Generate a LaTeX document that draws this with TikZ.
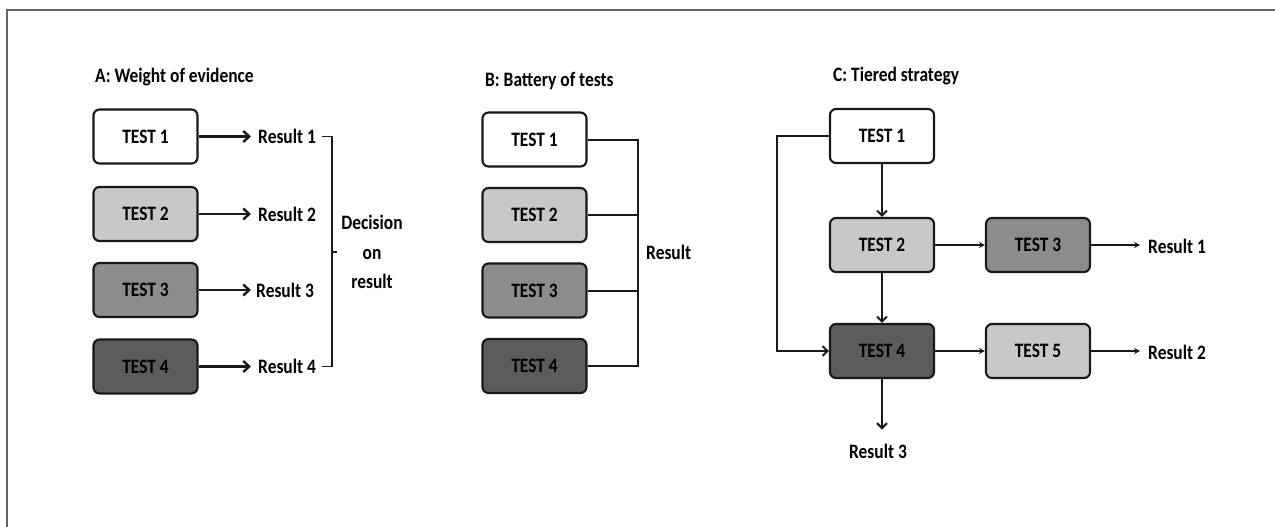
\documentclass[tikz,border=0pt]{standalone}
\usepackage{fontspec}
\setmainfont{Carlito}[FakeStretch=0.85]
\usetikzlibrary{arrows.meta}
\definecolor{gtwo}{RGB}{200,200,200}
\definecolor{gthree}{RGB}{140,140,140}
\definecolor{gfour}{RGB}{92,92,92}
\definecolor{edge}{RGB}{25,25,25}
\begin{document}
\begin{tikzpicture}[x=1pt,y=-1pt,
  txt/.style={font=\fontsize{20.5}{24}\selectfont\bfseries},
  box/.style={txt, draw=edge, line width=2.1pt, rounded corners=6pt, minimum width=104pt, minimum height=54pt, inner sep=0pt},
  lbl/.style={txt, inner sep=0pt},
  conn/.style={line width=2pt, draw=edge},
  arrA/.style={line width=2.4pt, draw=edge, -{Straight Barb[length=6pt,width=11pt,line width=2.4pt]}},
  arrC/.style={conn, -{Straight Barb[length=5pt,width=10pt,line width=2pt]}},
  arrS/.style={conn, -{Stealth[length=6pt,width=6pt]}},
]
\useasboundingbox (0,0) rectangle (1275,527);
\draw[line width=2pt, black!60] (7,527) -- (7,10.5) -- (1275,10.5);

% ---------- Panel A ----------
\node[lbl, anchor=west] (tA) at (95,77) {A: Weight of evidence};
\node[box, fill=white]  (a1) at (145.5,136.5) {TEST 1};
\node[box, fill=gtwo]   (a2) at (145.5,214) {TEST 2};
\node[box, fill=gthree] (a3) at (145.5,290) {TEST 3};
\node[box, fill=gfour]  (a4) at (145.5,366.5) {TEST 4};
\node[lbl, anchor=west] (ra1) at (258,136.5) {Result 1};
\node[lbl, anchor=west] (ra2) at (258,214) {Result 2};
\node[lbl, anchor=west] (ra3) at (256,290) {Result 3};
\node[lbl, anchor=west] (ra4) at (258,366.5) {Result 4};
\draw[arrA, shorten >=7pt] (a1.east) -- (ra1.west);
\draw[arrA, shorten >=7pt] (a2.east) -- (ra2.west);
\draw[arrA, shorten >=5pt] (a3.east) -- (ra3.west);
\draw[arrA, shorten >=7pt] (a4.east) -- (ra4.west);
\coordinate (bt) at (332,136.5);
\coordinate (bb) at (332,366.5);
\coordinate (bm) at (332,252);
\node[lbl, align=center, font=\fontsize{20.5}{29.5}\selectfont\bfseries] (dec) at (372,252) {Decision\\on\\result};
\draw[conn, line width=1.8pt] ([xshift=6pt]ra1.east) -- (bt) -- (bb) -- ([xshift=6pt]ra4.east);
\draw[conn, line width=1.8pt] (bm) -- ++(5,0);

% ---------- Panel B ----------
\node[lbl, anchor=west] (tB) at (485,81) {B: Battery of tests};
\node[box, fill=white]  (b1) at (534.5,139.5) {TEST 1};
\node[box, fill=gtwo]   (b2) at (534.5,215) {TEST 2};
\node[box, fill=gthree] (b3) at (534.5,290.5) {TEST 3};
\node[box, fill=gfour]  (b4) at (534.5,366) {TEST 4};
\coordinate (bx) at (638,0);
\draw[conn] (b1.east) -- (b1.east -| bx) -- (b4.east -| bx) -- (b4.east);
\draw[conn] (b2.east) -- (b2.east -| bx);
\draw[conn] (b3.east) -- (b3.east -| bx);
\node[lbl, anchor=west] (rb) at (646,252) {Result};

% ---------- Panel C ----------
\node[lbl, anchor=west] (tC) at (833,76) {C: Tiered strategy};
\node[box, fill=white]  (c1) at (882,136) {TEST 1};
\node[box, fill=gtwo]   (c2) at (882,245) {TEST 2};
\node[box, fill=gthree] (c3) at (1038,245) {TEST 3};
\node[box, fill=gfour]  (c4) at (882,351) {TEST 4};
\node[box, fill=gtwo]   (c5) at (1038,351) {TEST 5};
\node[lbl, anchor=west] (rc1) at (1148,246) {Result 1};
\node[lbl, anchor=west] (rc2) at (1148,352) {Result 2};
\node[lbl] (rc3) at (878,451) {Result 3};
\draw[arrC] (c1.south) -- (c2.north);
\draw[arrC] (c2.south) -- (c4.north);
\draw[arrS] (c2.east) -- (c3.west);
\draw[arrS] (c4.east) -- (c5.west);
\draw[arrS, shorten >=8pt] (c3.east) -- (c3.east -| rc1.west);
\draw[arrS, shorten >=8pt] (c5.east) -- (c5.east -| rc2.west);
\draw[arrC, shorten >=14pt] (c4.south) -- (c4.south |- rc3.north);
\draw[arrC] (c1.west) -- ++(-52,0) |- (c4.west);
\end{tikzpicture}
\end{document}
